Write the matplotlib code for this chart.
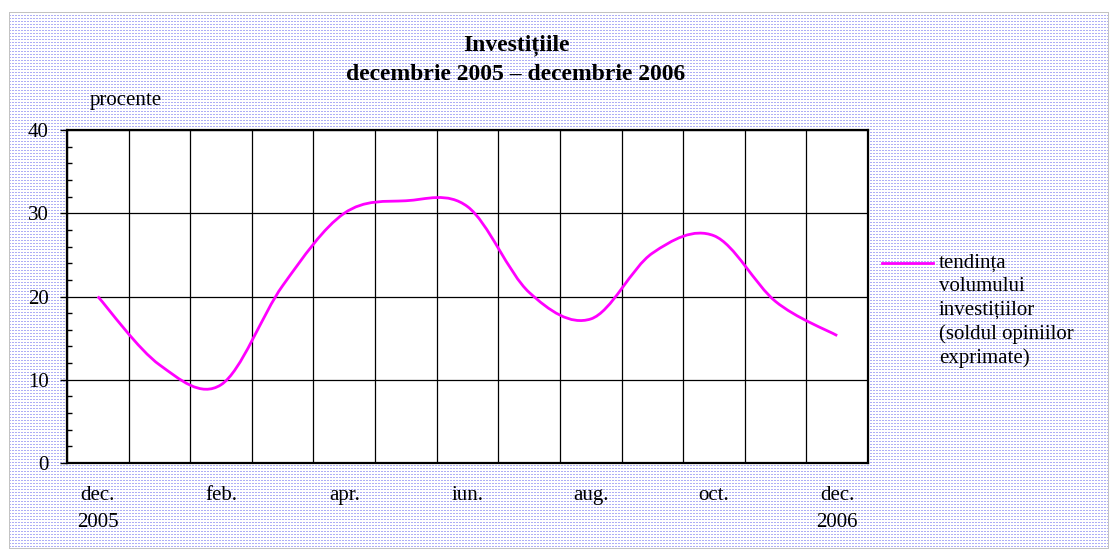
import numpy as np
import matplotlib
matplotlib.use("Agg")
import matplotlib.pyplot as plt
from matplotlib.path import Path
from matplotlib.patches import PathPatch
from matplotlib.lines import Line2D

# ---- data ----
months = ["dec.\n2005", "ian.", "feb.", "mar.", "apr.", "mai", "iun.",
          "iul.", "aug.", "sep.", "oct.", "noi.", "dec.\n2006"]
values = [20.0, 11.8, 9.4, 21.3, 30.0, 31.5, 30.8, 20.5, 17.3, 25.2, 27.3, 19.4, 15.3]
shown_labels = ["dec.\n2005", "feb.", "apr.", "iun.", "aug.", "oct.", "dec.\n2006"]
yticks = [0, 10, 20, 30, 40]
title = "Investițiile\ndecembrie 2005 – decembrie 2006"
ylabel = "procente"
series_name = "tendința\nvolumului\ninvestițiilor\n(soldul opiniilor\nexprimate)"

W, H = 1113, 550
plt.rcParams['font.family'] = ['Liberation Serif', 'DejaVu Serif']

fig = plt.figure(figsize=(W / 100, H / 100), dpi=100)
fig.patch.set_facecolor("white")

# dotted background pattern with thin grey border
bg = np.ones((H, W, 3))
yy, xx = np.mgrid[0:H, 0:W]
x0, y0, x1, y1 = 9, 12, 1108, 548
inside = (xx >= x0) & (xx <= x1) & (yy >= y0) & (yy <= y1)
dots = inside & (xx % 3 != 2) & (yy % 3 == 0)
bg[dots] = np.array([175, 175, 245]) / 255
border = (((xx == x0) | (xx == x1)) & (yy >= y0) & (yy <= y1)) | \
         (((yy == y0) | (yy == y1)) & (xx >= x0) & (xx <= x1))
bg[border] = np.array([195, 195, 195]) / 255
fig.figimage(bg, 0, 0, origin="upper", zorder=0)

ax = fig.add_axes([67 / W, (H - 463) / H, (868 - 67) / W, (463 - 130) / H])
ax.set_facecolor("white")
ax.set_zorder(2)

n = len(values)
x = np.arange(n, dtype=float)
y = np.array(values)

# Excel-like smoothed line (cubic Bezier through the data points)
verts = [(x[0], y[0])]
codes = [Path.MOVETO]
for i in range(n - 1):
    pm = i - 1 if i > 0 else i
    pp = i + 2 if i + 2 < n else i + 1
    c1 = (x[i] + (x[i + 1] - x[pm]) / 6, y[i] + (y[i + 1] - y[pm]) / 6)
    c2 = (x[i + 1] - (x[pp] - x[i]) / 6, y[i + 1] - (y[pp] - y[i]) / 6)
    verts += [c1, c2, (x[i + 1], y[i + 1])]
    codes += [Path.CURVE4] * 3
line_color = "#FF00FF"
patch = PathPatch(Path(verts, codes), fill=False, edgecolor=line_color, lw=2.0,
                  transform=ax.transData, zorder=3, capstyle="butt")
ax.add_patch(patch)

ax.set_xlim(-0.5, n - 0.5)
ax.set_ylim(0, 40)

# x axis: labels at every second month, grid between categories
ax.set_xticks(x[::2])
ax.set_xticklabels(shown_labels, fontsize=15, linespacing=1.55, va="top")
ax.set_xticks(np.arange(-0.5, n, 1.0), minor=True)
ax.tick_params(axis="x", which="major", length=0, pad=16.5)
ax.tick_params(axis="x", which="minor", length=0)
ax.grid(True, axis="x", which="minor", color="black", lw=0.9)

ax.set_yticks(yticks)
ax.set_yticklabels([str(t) for t in yticks], fontsize=15)
ax.set_yticks(np.arange(0, 41, 2), minor=True)
ax.tick_params(axis="y", which="major", direction="out", length=5, width=1, pad=8)
ax.tick_params(axis="y", which="minor", direction="in", length=3.6, width=1)
ax.grid(True, axis="y", which="major", color="black", lw=0.9)
ax.set_axisbelow(True)

for s in ax.spines.values():
    s.set_linewidth(1.6)
    s.set_color("black")

# title and unit label
fig.text(516 / W, 1 - 60 / H, title, ha="center", va="center", fontsize=17,
         fontweight="bold", linespacing=1.5)
fig.text(90 / W, 1 - 101 / H, ylabel, ha="left", va="center", fontsize=15)

# legend (key line + label)
fig.add_artist(Line2D([882 / W, 933 / W], [1 - 263 / H, 1 - 263 / H],
                      transform=fig.transFigure, color=line_color, lw=2.0))
fig.text(939 / W, 1 - 254 / H, series_name, ha="left", va="top", fontsize=15,
         linespacing=1.3)

fig.savefig("out.png", dpi=100)
